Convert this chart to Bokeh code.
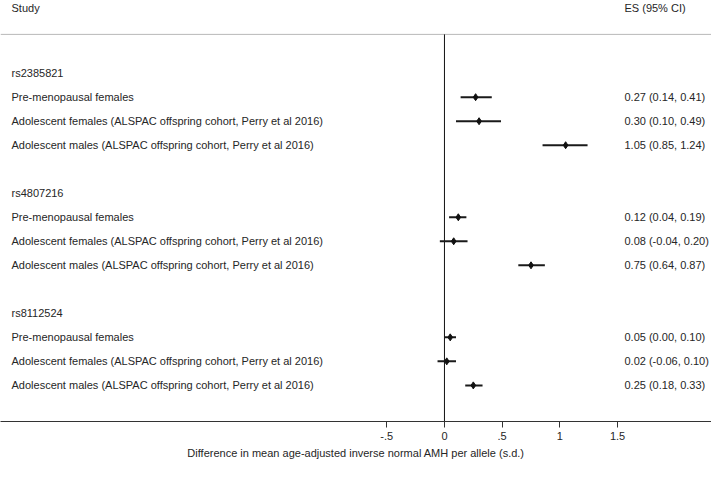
from bokeh.plotting import figure
from bokeh.models import Range1d, FixedTicker, LinearAxis, ColumnDataSource
from bokeh.core.properties import value
from bokeh.embed import file_html
from bokeh.resources import INLINE

groups = ["rs2385821", "rs4807216", "rs8112524"]
studies = ["Pre-menopausal females",
           "Adolescent females (ALSPAC offspring cohort, Perry et al 2016)",
           "Adolescent males (ALSPAC offspring cohort, Perry et al 2016)"]
es = [[0.27, 0.30, 1.05], [0.12, 0.08, 0.75], [0.05, 0.02, 0.25]]
lo = [[0.14, 0.10, 0.85], [0.04, -0.04, 0.64], [0.00, -0.06, 0.18]]
hi = [[0.41, 0.49, 1.24], [0.19, 0.20, 0.87], [0.10, 0.10, 0.33]]
ticks = [-0.5, 0, 0.5, 1, 1.5]
tick_labels = ["-.5", "0", ".5", "1", "1.5"]
x_title = "Difference in mean age-adjusted inverse normal AMH per allele (s.d.)"

FONT = "Liberation Sans"
TXT = "#262626"
FS = "11px"

W, H = 711, 461
x0, x1 = -3.847, 2.314
y_top, y_bot = 3.026, -14.504
p = figure(width=W, height=H, output_backend="svg", toolbar_location=None,
           x_range=Range1d(x0, x1), y_range=Range1d(y_bot, y_top),
           x_axis_location=None, y_axis_location=None,
           min_border_left=0, min_border_right=0, min_border_top=0, min_border_bottom=0)
p.grid.visible = False
p.outline_line_color = None
p.background_fill_color = "white"
p.border_fill_color = "white"

upx = (x1 - x0) / W
xl = x0 + 11 * upx
xr = 1.56

# rows
gy, gname = [], []
sy, sname, ses, slo, shi, slab = [], [], [], [], [], []
for g, name in enumerate(groups):
    gy.append(-5 * g)
    gname.append(name)
    for i, s in enumerate(studies):
        sy.append(-(5 * g + 1 + i))
        sname.append(s)
        ses.append(es[g][i]); slo.append(lo[g][i]); shi.append(hi[g][i])
        slab.append(f"{es[g][i]:.2f} ({lo[g][i]:.2f}, {hi[g][i]:.2f})")

src = ColumnDataSource(dict(y=sy, name=sname, es=ses, lo=slo, hi=shi, lab=slab,
                            xl=[xl] * len(sy), xr=[xr] * len(sy)))
gsrc = ColumnDataSource(dict(y=gy, name=gname, xl=[xl] * len(gy)))

# header
p.text(x=[xl, xr], y=[2.70, 2.70], text=["Study", "ES (95% CI)"], text_font=value(FONT),
       text_font_size=FS, text_color=TXT, text_baseline="middle", text_align="left")
p.segment(x0=[x0], x1=[x1], y0=[1.615], y1=[1.615], line_color="#b8b8b8", line_width=1)
# zero line
p.segment(x0=[0], x1=[0], y0=[1.615], y1=[y_bot], line_color="#111111", line_width=1)

p.text(x="xl", y="y", text="name", source=gsrc, text_font=value(FONT), text_font_size=FS,
       text_color=TXT, text_baseline="middle", text_align="left")
p.text(x="xl", y="y", text="name", source=src, text_font=value(FONT), text_font_size=FS,
       text_color=TXT, text_baseline="middle", text_align="left")
p.text(x="xr", y="y", text="lab", source=src, text_font=value(FONT), text_font_size=FS,
       text_color=TXT, text_baseline="middle", text_align="left")

p.segment(x0="lo", x1="hi", y0="y", y1="y", source=src, line_color="#1a1a1a", line_width=2)
p.scatter(x="es", y="y", source=src, marker="diamond", size=7, fill_color="#111111",
          line_color="#111111")

ax = LinearAxis(ticker=FixedTicker(ticks=ticks),
                major_label_overrides={t: l for t, l in zip(ticks, tick_labels)})
ax.axis_label = x_title
ax.axis_label_text_font = FONT
ax.axis_label_text_font_size = FS
ax.axis_label_text_font_style = "normal"
ax.axis_label_text_color = TXT
ax.axis_label_standoff = 4
ax.major_label_text_font = FONT
ax.major_label_text_font_size = FS
ax.major_label_text_color = TXT
ax.major_label_standoff = 4
ax.axis_line_color = "#333333"
ax.major_tick_line_color = "#333333"
ax.major_tick_in = 0
ax.major_tick_out = 6
ax.minor_tick_line_color = None
p.add_layout(ax, "below")

open("out.html", "w").write(file_html(p, INLINE))
